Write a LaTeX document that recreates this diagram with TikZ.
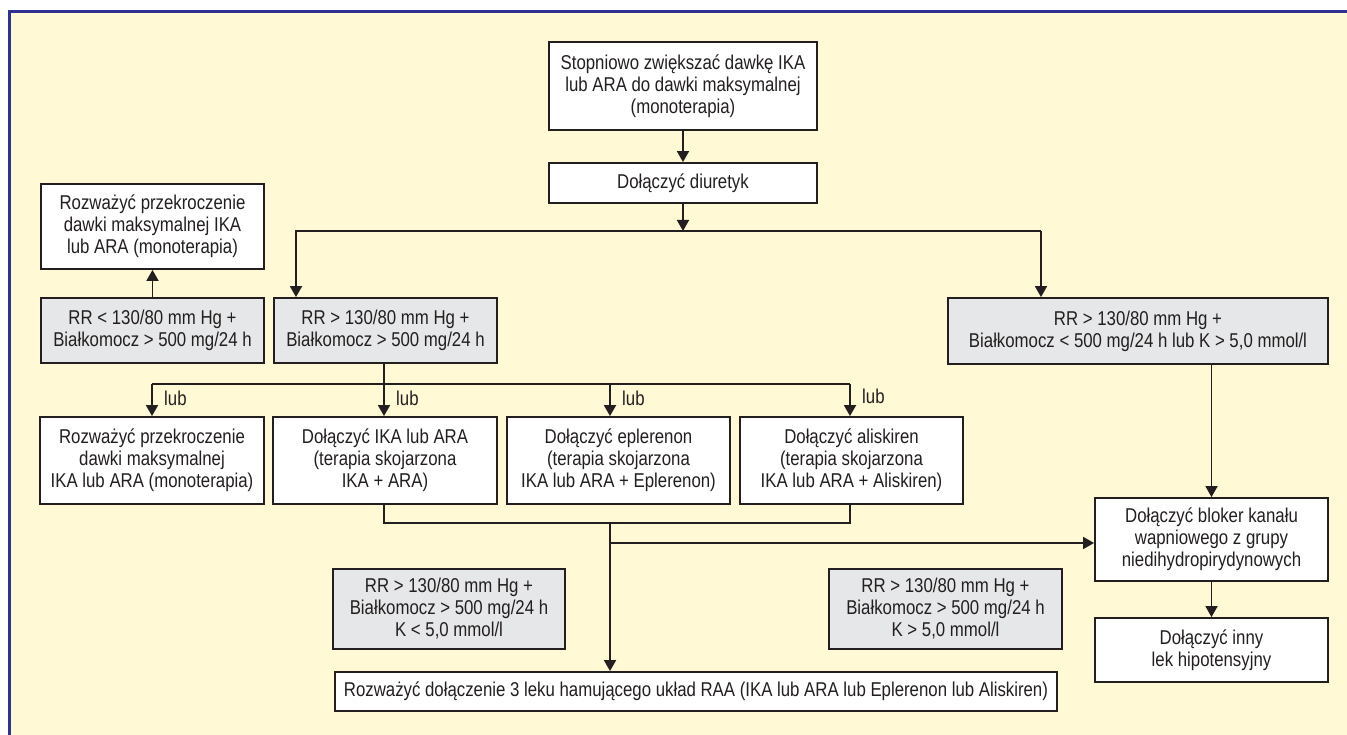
\documentclass[tikz,border=0pt]{standalone}
\usepackage{fontspec}
\setmainfont{Liberation Sans}[FakeStretch=0.84]
\usetikzlibrary{arrows.meta,calc}
\definecolor{cream}{RGB}{255,249,213}
\definecolor{frameblue}{RGB}{46,49,146}
\definecolor{lc}{RGB}{35,31,32}
\definecolor{boxgray}{RGB}{230,231,232}
\newcommand{\fs}{\fontsize{20}{22}\selectfont}
\begin{document}
\begin{tikzpicture}[x=1pt,y=-1pt,
  box/.style={draw=lc, fill=white, line width=1.8pt, align=center, inner sep=0pt, font=\fs, text=lc},
  grey/.style={box, fill=boxgray},
  arr/.style={line width=1.7pt, draw=lc, -{Triangle[width=12pt,length=11pt]}},
  ln/.style={line width=1.7pt, draw=lc},
  lbl/.style={font=\fs, text=lc, inner sep=0pt, anchor=west}]
\useasboundingbox (0,0) rectangle (1347,735);
\fill[white] (0,0) rectangle (1347,735);
\fill[cream] (9,11) rectangle (1347,735);
\draw[frameblue, line width=3pt] (9.5,735) -- (9.5,11.5) -- (1347,11.5);

% nodes
\node[box, minimum width=268pt, minimum height=88pt] (top) at (683,86)
  {Stopniowo zwiększać dawkę IKA\\lub ARA do dawki maksymalnej\\(monoterapia)};
\node[box, minimum width=268pt, minimum height=40pt] (diur) at (683,183) {Dołączyć diuretyk};
\node[box, minimum width=223pt, minimum height=85pt] (rozA) at (152.5,226.5)
  {Rozważyć przekroczenie\\dawki maksymalnej IKA\\lub ARA (monoterapia)};
\node[grey, minimum width=223pt, minimum height=65pt] (g1) at (152.5,330.5)
  {RR < 130/80 mm Hg +\\Białkomocz > 500 mg/24 h};
\node[grey, minimum width=223pt, minimum height=65pt] (g2) at (385.5,330.5)
  {RR > 130/80 mm Hg +\\Białkomocz > 500 mg/24 h};
\node[grey, minimum width=380pt, minimum height=66pt] (g3) at (1138,331)
  {RR > 130/80 mm Hg +\\Białkomocz < 500 mg/24 h lub K > 5,0 mmol/l};
\node[box, minimum width=224pt, minimum height=87pt] (A) at (152,460.5)
  {Rozważyć przekroczenie\\dawki maksymalnej\\IKA lub ARA (monoterapia)};
\node[box, minimum width=224pt, minimum height=87pt] (B) at (385,460.5)
  {Dołączyć IKA lub ARA\\(terapia skojarzona\\IKA + ARA)};
\node[box, minimum width=223pt, minimum height=87pt] (C) at (618.5,460.5)
  {Dołączyć eplerenon\\(terapia skojarzona\\IKA lub ARA + Eplerenon)};
\node[box, minimum width=223pt, minimum height=87pt] (D) at (851.5,460.5)
  {Dołączyć aliskiren\\(terapia skojarzona\\IKA lub ARA + Aliskiren)};
\node[box, minimum width=233pt, minimum height=83pt] (ccb) at (1211.5,539.5)
  {Dołączyć bloker kanału\\wapniowego z grupy\\niedihydropirydynowych};
\node[box, minimum width=233pt, minimum height=64pt] (inny) at (1211.5,650)
  {Dołączyć inny\\lek hipotensyjny};
\node[grey, minimum width=232pt, minimum height=80pt] (g4) at (449,609)
  {RR > 130/80 mm Hg +\\Białkomocz > 500 mg/24 h\\K < 5,0 mmol/l};
\node[grey, minimum width=233pt, minimum height=80pt] (g5) at (945.5,609)
  {RR > 130/80 mm Hg +\\Białkomocz > 500 mg/24 h\\K > 5,0 mmol/l};
\node[box, minimum width=722pt, minimum height=39pt] (bot) at (696,691.5)
  {Rozważyć dołączenie 3 leku hamującego układ RAA (IKA lub ARA lub Eplerenon lub Aliskiren)};

% lub labels
\node[lbl] (lub1) at (164,398) {lub};
\node[lbl] (lub2) at (396,398) {lub};
\node[lbl] (lub3) at (622,398) {lub};
\node[lbl] (lub4) at (862,396) {lub};

% connectors
\coordinate (s1) at (683,231);
\coordinate (sL) at (296,231);
\coordinate (sR) at (1041,231);
\draw[arr] (top) -- (diur);
\draw[arr] (diur) -- (s1);
\draw[arr] (sR) -- (sL) -- (sL |- g2.north);
\draw[arr] (sR) -- (sR |- g3.north);
\draw[arr] (g1.north) -- (rozA.south);

\coordinate (b1) at (384,384);
\coordinate (bL) at (152,384);
\coordinate (bC) at (610,384);
\coordinate (bR) at (850,384);
\draw[ln] (b1 |- g2.south) -- (b1);
\draw[ln] (bL) -- (bR);
\draw[arr] (bL) -- (bL |- A.north);
\draw[arr] (b1) -- (b1 |- B.north);
\draw[arr] (bC) -- (bC |- C.north);
\draw[arr] (bR) -- (bR |- D.north);

\coordinate (c1) at (384,523);
\coordinate (c2) at (850,523);
\coordinate (cj) at (610,523);
\coordinate (ch) at (610,543);
\draw[ln] (c1 |- B.south) -- (c1) -- (c2) -- (c2 |- D.south);
\draw[arr] (cj) -- (cj |- bot.north);
\draw[arr] (ch) -- (ch -| ccb.west);
\draw[arr] (ccb.north |- g3.south) -- (ccb.north);
\draw[arr] (ccb) -- (inny);
\end{tikzpicture}
\end{document}
